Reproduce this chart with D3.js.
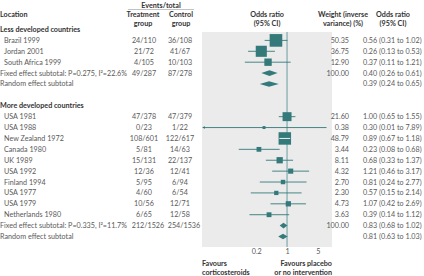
<!DOCTYPE html>
<html lang="en">
<head>
<meta charset="UTF-8">
<title>Forest plot</title>
<script src="https://cdn.jsdelivr.net/npm/d3@7"></script>
<style>
  body { margin: 0; background: #fff; }
  svg text { font-family: Lato, "Noto Sans", sans-serif; }
</style>
</head>
<body>
<div id="chart"></div>
<script>
// study level data
const studyNames = ["Brazil 1999", "Jordan 2001", "South Africa 1999",
  "USA 1981", "USA 1988", "New Zealand 1972", "Canada 1980", "UK 1989",
  "USA 1992", "Finland 1994", "USA 1977", "USA 1979", "Netherlands 1980"];
const studyGroup = [0, 0, 0, 1, 1, 1, 1, 1, 1, 1, 1, 1, 1];
const treatEvents = ["24/110", "21/72", "4/105", "47/378", "0/23", "108/601", "5/81",
  "15/131", "12/36", "5/95", "4/60", "10/56", "6/65"];
const controlEvents = ["36/108", "41/67", "10/103", "47/379", "1/22", "122/617", "14/63",
  "22/137", "12/41", "6/94", "6/54", "12/71", "12/58"];
const oddsRatio = [0.56, 0.26, 0.37, 1.00, 0.30, 0.89, 0.23, 0.68, 1.21, 0.81, 0.57, 1.07, 0.39];
const ciLow = [0.31, 0.13, 0.11, 0.65, 0.01, 0.67, 0.08, 0.33, 0.46, 0.24, 0.15, 0.42, 0.14];
const ciHigh = [1.02, 0.53, 1.21, 1.55, 7.89, 1.18, 0.68, 1.37, 3.17, 2.77, 2.14, 2.69, 1.12];
const weights = [50.35, 36.75, 12.90, 21.60, 0.38, 48.79, 3.44, 8.11, 4.32, 2.70, 2.30, 4.73, 3.63];

// subgroup summaries
const groupNames = ["Less developed countries", "More developed countries"];
const fixedLabels = ["Fixed effect subtotal: P=0.275, I\u00b2=22.6%", "Fixed effect subtotal: P=0.335, I\u00b2=11.7%"];
const fixedTreat = ["49/287", "212/1526"];
const fixedControl = ["87/278", "254/1536"];
const fixedOR = [0.40, 0.83], fixedLow = [0.26, 0.68], fixedHigh = [0.61, 1.02];
const randomOR = [0.39, 0.81], randomLow = [0.24, 0.63], randomHigh = [0.65, 1.03];
const axisTicks = [0.2, 1, 5];

const w = 424, h = 276;
const fs = 7.2;
const textCol = "#5a5a5a", headCol = "#333", teal = "#357a7b";
const fmt = d3.format(".2f");

// build row list
const rows = [];
groupNames.forEach((g, gi) => {
  rows.push({ type: "group", label: g });
  studyNames.forEach((s, i) => {
    if (studyGroup[i] === gi) rows.push({ type: "study", i: i });
  });
  rows.push({ type: "fixed", g: gi });
  rows.push({ type: "random", g: gi });
  if (gi === 0) rows.push({ type: "blank" });
});

const y = d3.scaleLinear().domain([0, rows.length - 1]).range([29.5, 236.5]);
const x = d3.scaleLog().domain([0.0117, 10.5]).range([202, 332]);
const panelTop = 32, panelBottom = 247;

const svg = d3.select("#chart").append("svg")
  .attr("width", w).attr("height", h);

// panel and line of no effect
svg.append("rect")
  .attr("x", x.range()[0]).attr("y", panelTop)
  .attr("width", x.range()[1] - x.range()[0]).attr("height", panelBottom - panelTop)
  .attr("fill", "#ebebeb");
svg.append("line")
  .attr("x1", x(1)).attr("x2", x(1)).attr("y1", panelTop).attr("y2", panelBottom)
  .attr("stroke", "#86afb0").attr("stroke-width", 1.3);

// headers
function txt(xp, yp, s, anchor, bold, col) {
  return svg.append("text").attr("x", xp).attr("y", yp)
    .attr("dominant-baseline", "central")
    .attr("text-anchor", anchor || "start")
    .attr("font-size", fs)
    .attr("font-weight", bold ? "bold" : "normal")
    .attr("fill", col || (bold ? headCol : textCol))
    .text(s);
}
const colT = 144, colC = 180, colW = 349, colCI = 363;
txt(161, 5, "Events/total", "middle", true);
svg.append("line").attr("x1", 128).attr("x2", 194).attr("y1", 9.5).attr("y2", 9.5)
  .attr("stroke", "#999").attr("stroke-width", 0.6);
txt(0, 14.7, "Location", "start", true);
txt(colT - 1, 14.7, "Treatment", "middle", true);
txt(colT - 1, 23.5, "group", "middle", true);
txt(colC + 1, 14.7, "Control", "middle", true);
txt(colC + 1, 23.5, "group", "middle", true);
txt(x(1) - 20, 14.7, "Odds ratio", "middle", true);
txt(x(1) - 20, 23.5, "(95% CI)", "middle", true);
txt(343, 14.7, "Weight (inverse", "middle", true);
txt(343, 23.5, "variance) (%)", "middle", true);
txt(393, 14.7, "Odds ratio", "middle", true);
txt(393, 23.5, "(95% CI)", "middle", true);

function ciText(o, l, hh) { return fmt(o) + " (" + fmt(l) + " to " + fmt(hh) + ")"; }

function diamond(yy, o, l, hh) {
  const half = 2.8;
  svg.append("path")
    .attr("d", `M${x(l)},${yy}L${x(o)},${yy - half}L${x(hh)},${yy}L${x(o)},${yy + half}Z`)
    .attr("fill", teal);
}

rows.forEach((r, ri) => {
  const yy = y(ri);
  if (r.type === "group") {
    txt(0, yy, r.label, "start", true);
  } else if (r.type === "study") {
    const i = r.i;
    txt(4, yy, studyNames[i]);
    txt(colT, yy, treatEvents[i], "middle");
    txt(colC, yy, controlEvents[i], "middle");
    txt(colW, yy, fmt(weights[i]), "end");
    txt(colCI, yy, ciText(oddsRatio[i], ciLow[i], ciHigh[i]));
    const lo = Math.max(ciLow[i], x.domain()[0]);
    const hi = Math.min(ciHigh[i], x.domain()[1]);
    svg.append("line")
      .attr("x1", x(lo) + (ciLow[i] < x.domain()[0] ? 2 : 0)).attr("x2", x(hi))
      .attr("y1", yy).attr("y2", yy)
      .attr("stroke", teal).attr("stroke-width", 0.9);
    if (ciLow[i] < x.domain()[0]) {
      svg.append("path")
        .attr("d", `M${x(lo)},${yy}L${x(lo) + 3},${yy - 1.3}L${x(lo) + 3},${yy + 1.3}Z`)
        .attr("fill", teal);
    }
    const s = 2 + 1.5 * Math.sqrt(weights[i]);
    const cx = x(oddsRatio[i]);
    svg.append("rect")
      .attr("x", cx - s / 2).attr("y", yy - s / 2)
      .attr("width", s).attr("height", s)
      .attr("fill", teal);
    if (x(ciLow[i]) > cx - s / 2 && x(ciHigh[i]) < cx + s / 2) {
      svg.append("line")
        .attr("x1", x(ciLow[i])).attr("x2", x(ciHigh[i]))
        .attr("y1", yy).attr("y2", yy)
        .attr("stroke", "#fff").attr("stroke-width", 0.9);
    }
  } else if (r.type === "fixed") {
    const g = r.g;
    txt(0, yy, fixedLabels[g]);
    txt(colT + (g === 1 ? 4 : 0), yy, fixedTreat[g], "middle");
    txt(colC + (g === 1 ? 4 : 0), yy, fixedControl[g], "middle");
    txt(colW, yy, "100.00", "end");
    txt(colCI, yy, ciText(fixedOR[g], fixedLow[g], fixedHigh[g]));
    diamond(yy, fixedOR[g], fixedLow[g], fixedHigh[g]);
  } else if (r.type === "random") {
    const g = r.g;
    txt(0, yy, "Random effect subtotal");
    txt(colCI, yy, ciText(randomOR[g], randomLow[g], randomHigh[g]));
    diamond(yy, randomOR[g], randomLow[g], randomHigh[g]);
  }
});

// axis
const axis = svg.append("g")
  .attr("transform", `translate(0,${panelBottom})`)
  .call(d3.axisBottom(x).tickValues(axisTicks).tickSize(0).tickPadding(2)
    .tickFormat(d3.format("~g")));
axis.select(".domain").remove();
axis.selectAll("text").attr("font-size", fs).attr("fill", textCol)
  .attr("font-family", "Lato, 'Noto Sans', sans-serif");

// favours labels
txt(202, 263.5, "Favours", "start", true);
txt(202, 272.5, "corticosteroids", "start", true);
txt(332, 263.5, "Favours placebo", "end", true);
txt(332, 272.5, "or no intervention", "end", true);
</script>
</body>
</html>
